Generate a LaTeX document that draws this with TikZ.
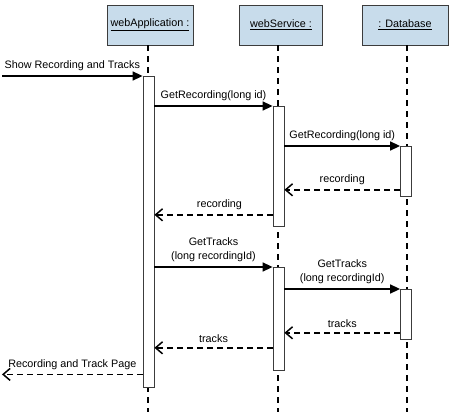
\documentclass[tikz,border=0pt]{standalone}
\usepackage{fontspec}
\setmainfont{Liberation Sans}
\usetikzlibrary{arrows.meta, positioning}

\definecolor{headblue}{RGB}{200,220,235}
\definecolor{headline}{RGB}{60,60,60}

\tikzset{
  object/.style={draw=headline, fill=headblue, line width=0.8pt,
    minimum width=86pt, minimum height=40pt, inner sep=0pt},
  lifeline/.style={line width=2.2pt, dash pattern=on 6pt off 5pt},
  activation/.style={draw=headline, fill=white, line width=0.8pt,
    minimum width=11pt, inner sep=0pt, anchor=north},
  call/.style={line width=1.5pt, -{Triangle[length=10pt, width=9pt]}},
  reply/.style={line width=1.5pt, dash pattern=on 6pt off 4pt,
    -{Straight Barb[length=7pt, width=12pt, line width=1.5pt]}},
  msg/.style={midway, above=1pt, align=center}
}

\begin{document}
\begin{tikzpicture}[x=1pt, y=-1pt, font=\fontsize{10.8}{14}\selectfont]
  \useasboundingbox (0,0) rectangle (450,412);

  % objects
  \node[object] (app) at (150,25) {\underline{webApplication :}};
  \node[object, minimum width=83pt] (svc) at (281,25) {\underline{webService :}};
  \node[object] (db) at (405,25) {\underline{: Database}};

  % lifelines
  \coordinate (append) at (148,412);
  \coordinate (svcend) at (278,412);
  \coordinate (dbend) at (407,412);
  \draw[lifeline] (append |- app.south) -- (append);
  \draw[lifeline] (svcend |- svc.south) -- (svcend);
  \draw[lifeline] (dbend |- db.south) -- (dbend);

  % activations
  \node[activation, minimum height=311pt] (appact) at (148.5,76) {};
  \node[activation, minimum height=120pt] (svc1) at (278.5,106) {};
  \node[activation, minimum height=50pt] (db1) at (406,146) {};
  \node[activation, minimum height=103pt] (svc2) at (278.5,267) {};
  \node[activation, minimum height=50pt] (db2) at (406,289) {};

  % messages
  \coordinate (userin) at (2,76);
  \coordinate (userout) at (2,374.4);
  \draw[call] (userin) -- (appact.north west) node[msg] {Show Recording and Tracks};
  \draw[call] (appact.east |- svc1.north) -- (svc1.north west)
    node[msg] {GetRecording(long id)};
  \draw[call] (svc1.east |- db1.north) -- (db1.north west)
    node[msg] {GetRecording(long id)};

  \coordinate (r1) at ([yshift=7pt]db1.south west);
  \draw[reply] (r1) -- (r1 -| svc1.east) node[msg] {recording};
  \coordinate (r2) at ([yshift=12pt]svc1.south west);
  \draw[reply] (r2) -- (r2 -| appact.east) node[msg, xshift=6pt] {recording};

  \draw[call] (appact.east |- svc2.north) -- (svc2.north west)
    node[msg] {GetTracks\\(long recordingId)};
  \draw[call] (svc2.east |- db2.north) -- (db2.north west)
    node[msg] {GetTracks\\(long recordingId)};

  \coordinate (t1) at ([yshift=7pt]db2.south west);
  \draw[reply] (t1) -- (t1 -| svc2.east) node[msg] {tracks};
  \coordinate (t2) at ([yshift=23pt]svc2.south west);
  \draw[reply] (t2) -- (t2 -| appact.east) node[msg] {tracks};

  \draw[reply] (appact.west |- userout) -- (userout)
    node[msg] {Recording and Track Page};

\end{tikzpicture}
\end{document}
